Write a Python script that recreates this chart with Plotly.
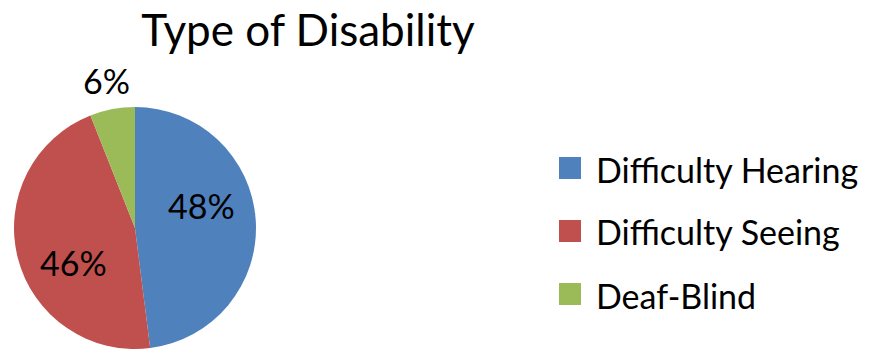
import math
import plotly.graph_objects as go

# Share of respondents by type of disability
categories = ["Difficulty Hearing", "Difficulty Seeing", "Deaf-Blind"]
shares = [48, 46, 6]
colors = ["#4F81BD", "#C0504D", "#9BBB59"]
outside_label = [False, False, True]

W, H = 876, 351
FONT = "Lato"

# Pie geometry in pixels
cx, cy, R = 135, 228, 121

fig = go.Figure(
    go.Pie(
        labels=categories,
        values=shares,
        sort=False,
        direction="clockwise",
        rotation=0,
        marker=dict(colors=colors, line=dict(width=0)),
        textinfo="none",
        showlegend=False,
        domain=dict(x=[(cx - R) / W, (cx + R) / W],
                    y=[(H - cy - R) / H, (H - cy + R) / H]),
        hoverinfo="label+percent",
    )
)

# Percentage labels placed around each slice's bisector
total = sum(shares)
start = 0.0
for v, outside in zip(shares, outside_label):
    mid = (start + v / 2) / total * 360.0
    start += v
    if outside:
        ang, r = mid, 1.24 * R
    else:
        ang, r = mid - 15, 0.58 * R
    px = cx + r * math.sin(math.radians(ang))
    py = cy - r * math.cos(math.radians(ang))
    fig.add_annotation(
        xref="paper", yref="paper",
        x=px / W, y=(H - py) / H,
        xanchor="center", yanchor="middle",
        text=f"{round(v / total * 100)}%", showarrow=False,
        font=dict(family=FONT, size=34, color="black"),
    )

# Legend: colour swatch and label for each category
swatch = 22
legend_x = 559
text_x = 594
row_y = [168, 231, 294]
for name, col, yc in zip(categories, colors, row_y):
    fig.add_shape(
        type="rect",
        xref="paper", yref="paper",
        x0=legend_x / W, x1=(legend_x + swatch) / W,
        y0=(H - yc - swatch / 2) / H, y1=(H - yc + swatch / 2) / H,
        fillcolor=col, line=dict(width=0),
    )
    fig.add_annotation(
        xref="paper", yref="paper",
        x=text_x / W, y=(H - yc - 1) / H,
        xanchor="left", yanchor="middle",
        text=name, showarrow=False,
        font=dict(family=FONT, size=34, color="black"),
    )

fig.update_layout(
    width=W, height=H,
    margin=dict(l=0, r=0, t=0, b=0),
    paper_bgcolor="white",
    plot_bgcolor="white",
    title=dict(
        text="Type of Disability",
        x=308 / W, xanchor="center",
        y=(H - 31) / H, yanchor="middle",
        font=dict(family=FONT, size=44, color="black"),
    ),
)

fig.write_html("out.html")
